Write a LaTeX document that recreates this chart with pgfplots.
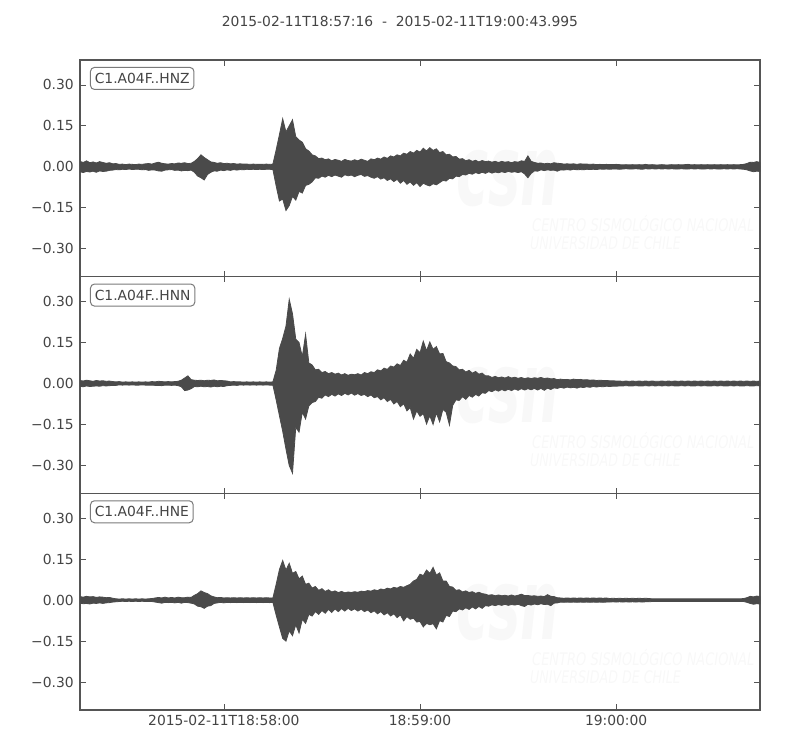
\documentclass[border=0pt]{standalone}
\usepackage{pgfplots}
\pgfplotsset{compat=1.18}
\usepackage{pgfplotstable}
\usepackage{fontspec}
\setmainfont{DejaVu Sans}
\definecolor{trace}{HTML}{4A4A4A}
\definecolor{frame}{HTML}{555555}
\definecolor{txt}{HTML}{444444}
\definecolor{boxc}{HTML}{7A7A7A}
\definecolor{wm}{HTML}{F8F8F8}
\newcommand\lab{\fontsize{10.4}{12.5}\selectfont}

\pgfplotstableread{
t hi lo
0 0.020 -0.018
1 0.016 -0.021
2 0.022 -0.017
3 0.015 -0.019
4 0.018 -0.016
5 0.014 -0.020
6 0.019 -0.015
7 0.016 -0.017
8 0.013 -0.016
9 0.015 -0.013
10 0.011 -0.012
11 0.012 -0.010
12 0.009 -0.011
13 0.010 -0.009
14 0.008 -0.010
15 0.010 -0.008
16 0.009 -0.010
17 0.008 -0.009
18 0.010 -0.009
19 0.009 -0.011
20 0.011 -0.010
21 0.012 -0.013
22 0.010 -0.011
23 0.014 -0.012
24 0.017 -0.015
25 0.013 -0.016
26 0.011 -0.012
27 0.010 -0.011
28 0.012 -0.010
29 0.011 -0.013
30 0.014 -0.012
31 0.013 -0.015
32 0.015 -0.013
33 0.012 -0.014
34 0.013 -0.012
35 0.020 -0.020
36 0.030 -0.034
37 0.044 -0.040
38 0.034 -0.048
39 0.026 -0.028
40 0.018 -0.020
41 0.016 -0.015
42 0.013 -0.016
43 0.015 -0.012
44 0.012 -0.014
45 0.013 -0.011
46 0.011 -0.013
47 0.012 -0.010
48 0.010 -0.012
49 0.011 -0.010
50 0.010 -0.011
51 0.010 -0.009
52 0.009 -0.010
53 0.010 -0.009
54 0.009 -0.010
55 0.009 -0.009
56 0.009 -0.010
57 0.010 -0.009
58 0.009 -0.009
59 0.010 -0.010
60 0.062 -0.070
61 0.118 -0.125
62 0.176 -0.118
63 0.128 -0.160
64 0.150 -0.142
65 0.172 -0.108
66 0.110 -0.122
67 0.098 -0.090
68 0.090 -0.096
69 0.066 -0.068
70 0.058 -0.064
71 0.044 -0.055
72 0.040 -0.040
73 0.030 -0.042
74 0.032 -0.034
75 0.026 -0.038
76 0.029 -0.031
77 0.022 -0.036
78 0.027 -0.030
79 0.024 -0.034
80 0.020 -0.038
81 0.027 -0.029
82 0.023 -0.033
83 0.021 -0.030
84 0.026 -0.036
85 0.022 -0.031
86 0.028 -0.028
87 0.024 -0.035
88 0.020 -0.032
89 0.029 -0.038
90 0.026 -0.042
91 0.032 -0.036
92 0.028 -0.045
93 0.036 -0.040
94 0.031 -0.050
95 0.040 -0.044
96 0.036 -0.054
97 0.044 -0.046
98 0.040 -0.060
99 0.050 -0.050
100 0.046 -0.064
101 0.056 -0.055
102 0.050 -0.068
103 0.060 -0.058
104 0.054 -0.072
105 0.068 -0.060
106 0.058 -0.066
107 0.070 -0.070
108 0.060 -0.062
109 0.066 -0.066
110 0.052 -0.058
111 0.056 -0.050
112 0.044 -0.052
113 0.046 -0.042
114 0.036 -0.044
115 0.038 -0.034
116 0.028 -0.036
117 0.030 -0.028
118 0.022 -0.030
119 0.026 -0.024
120 0.020 -0.027
121 0.024 -0.021
122 0.018 -0.025
123 0.023 -0.020
124 0.019 -0.024
125 0.021 -0.018
126 0.017 -0.023
127 0.020 -0.019
128 0.016 -0.022
129 0.020 -0.018
130 0.017 -0.021
131 0.019 -0.017
132 0.015 -0.020
133 0.019 -0.018
134 0.017 -0.021
135 0.022 -0.018
136 0.020 -0.026
137 0.040 -0.040
138 0.020 -0.024
139 0.016 -0.015
140 0.013 -0.016
141 0.014 -0.011
142 0.011 -0.014
143 0.013 -0.011
144 0.011 -0.013
145 0.015 -0.012
146 0.013 -0.016
147 0.012 -0.011
148 0.010 -0.012
149 0.011 -0.010
150 0.010 -0.012
151 0.011 -0.009
152 0.009 -0.011
153 0.011 -0.010
154 0.010 -0.011
155 0.010 -0.009
156 0.009 -0.010
157 0.010 -0.009
158 0.008 -0.010
159 0.009 -0.008
160 0.008 -0.009
161 0.009 -0.008
162 0.008 -0.009
163 0.008 -0.008
164 0.009 -0.008
165 0.008 -0.009
166 0.007 -0.008
167 0.008 -0.007
168 0.007 -0.008
169 0.008 -0.008
170 0.007 -0.007
171 0.008 -0.008
172 0.007 -0.009
173 0.009 -0.007
174 0.007 -0.008
175 0.008 -0.007
176 0.007 -0.008
177 0.007 -0.007
178 0.008 -0.008
179 0.007 -0.007
180 0.007 -0.008
181 0.008 -0.007
182 0.007 -0.008
183 0.008 -0.008
184 0.007 -0.007
185 0.008 -0.008
186 0.009 -0.008
187 0.007 -0.007
188 0.008 -0.008
189 0.007 -0.007
190 0.008 -0.008
191 0.007 -0.008
192 0.008 -0.007
193 0.007 -0.008
194 0.008 -0.007
195 0.007 -0.008
196 0.008 -0.008
197 0.007 -0.007
198 0.008 -0.008
199 0.007 -0.007
200 0.008 -0.008
201 0.007 -0.007
202 0.008 -0.008
203 0.009 -0.009
204 0.012 -0.011
205 0.017 -0.015
206 0.016 -0.018
207 0.019 -0.016
208 0.016 -0.017
}\hnz

\pgfplotstableread{
t hi lo
0 0.011 -0.010
1 0.009 -0.012
2 0.012 -0.009
3 0.010 -0.011
4 0.008 -0.010
5 0.011 -0.009
6 0.009 -0.010
7 0.010 -0.008
8 0.008 -0.009
9 0.009 -0.008
10 0.007 -0.007
11 0.006 -0.007
12 0.007 -0.005
13 0.005 -0.006
14 0.006 -0.005
15 0.005 -0.006
16 0.006 -0.005
17 0.005 -0.006
18 0.006 -0.006
19 0.005 -0.005
20 0.006 -0.006
21 0.005 -0.006
22 0.007 -0.006
23 0.006 -0.007
24 0.008 -0.007
25 0.007 -0.008
26 0.006 -0.006
27 0.007 -0.006
28 0.006 -0.007
29 0.007 -0.006
30 0.008 -0.008
31 0.012 -0.012
32 0.020 -0.026
33 0.028 -0.024
34 0.014 -0.019
35 0.012 -0.011
36 0.011 -0.012
37 0.012 -0.010
38 0.010 -0.012
39 0.012 -0.011
40 0.011 -0.013
41 0.013 -0.010
42 0.010 -0.012
43 0.011 -0.010
44 0.010 -0.011
45 0.009 -0.008
46 0.006 -0.007
47 0.007 -0.006
48 0.006 -0.007
49 0.006 -0.005
50 0.005 -0.006
51 0.006 -0.005
52 0.005 -0.006
53 0.006 -0.005
54 0.005 -0.006
55 0.006 -0.005
56 0.005 -0.006
57 0.006 -0.005
58 0.005 -0.006
59 0.006 -0.006
60 0.048 -0.060
61 0.128 -0.118
62 0.165 -0.175
63 0.210 -0.240
64 0.308 -0.300
65 0.255 -0.328
66 0.162 -0.160
67 0.150 -0.178
68 0.098 -0.105
69 0.180 -0.130
70 0.075 -0.082
71 0.068 -0.070
72 0.050 -0.066
73 0.052 -0.050
74 0.040 -0.054
75 0.044 -0.042
76 0.036 -0.048
77 0.040 -0.040
78 0.034 -0.046
79 0.038 -0.038
80 0.031 -0.044
81 0.036 -0.036
82 0.030 -0.042
83 0.034 -0.035
84 0.032 -0.043
85 0.036 -0.037
86 0.031 -0.044
87 0.040 -0.040
88 0.036 -0.048
89 0.043 -0.042
90 0.040 -0.052
91 0.050 -0.048
92 0.046 -0.060
93 0.056 -0.052
94 0.052 -0.066
95 0.064 -0.058
96 0.060 -0.075
97 0.072 -0.066
98 0.066 -0.085
99 0.085 -0.074
100 0.078 -0.100
101 0.108 -0.088
102 0.092 -0.130
103 0.125 -0.100
104 0.112 -0.120
105 0.155 -0.110
106 0.120 -0.148
107 0.152 -0.118
108 0.125 -0.150
109 0.135 -0.108
110 0.108 -0.140
111 0.110 -0.095
112 0.080 -0.105
113 0.075 -0.152
114 0.064 -0.080
115 0.062 -0.060
116 0.050 -0.062
117 0.052 -0.048
118 0.042 -0.058
119 0.048 -0.044
120 0.038 -0.050
121 0.044 -0.040
122 0.034 -0.046
123 0.038 -0.034
124 0.028 -0.036
125 0.028 -0.026
126 0.022 -0.030
127 0.026 -0.023
128 0.021 -0.028
129 0.024 -0.022
130 0.020 -0.027
131 0.025 -0.021
132 0.020 -0.026
133 0.023 -0.020
134 0.019 -0.025
135 0.022 -0.019
136 0.018 -0.024
137 0.021 -0.019
138 0.018 -0.023
139 0.021 -0.018
140 0.019 -0.024
141 0.022 -0.018
142 0.018 -0.025
143 0.020 -0.017
144 0.017 -0.022
145 0.018 -0.016
146 0.014 -0.018
147 0.016 -0.014
148 0.014 -0.017
149 0.015 -0.013
150 0.013 -0.016
151 0.016 -0.014
152 0.014 -0.017
153 0.015 -0.013
154 0.013 -0.015
155 0.014 -0.012
156 0.012 -0.014
157 0.013 -0.011
158 0.011 -0.013
159 0.012 -0.011
160 0.011 -0.012
161 0.011 -0.010
162 0.010 -0.011
163 0.010 -0.010
164 0.009 -0.010
165 0.009 -0.009
166 0.008 -0.009
167 0.009 -0.008
168 0.008 -0.009
169 0.009 -0.009
170 0.008 -0.008
171 0.009 -0.009
172 0.008 -0.009
173 0.009 -0.008
174 0.008 -0.009
175 0.009 -0.008
176 0.008 -0.009
177 0.008 -0.008
178 0.009 -0.009
179 0.008 -0.008
180 0.009 -0.009
181 0.008 -0.008
182 0.009 -0.009
183 0.008 -0.009
184 0.009 -0.008
185 0.008 -0.009
186 0.009 -0.008
187 0.008 -0.009
188 0.009 -0.009
189 0.008 -0.008
190 0.009 -0.009
191 0.008 -0.008
192 0.009 -0.009
193 0.008 -0.009
194 0.009 -0.008
195 0.008 -0.009
196 0.009 -0.008
197 0.008 -0.009
198 0.009 -0.009
199 0.008 -0.008
200 0.009 -0.009
201 0.008 -0.008
202 0.009 -0.009
203 0.008 -0.009
204 0.009 -0.008
205 0.008 -0.009
206 0.009 -0.009
207 0.008 -0.008
208 0.009 -0.009
}\hnn

\pgfplotstableread{
t hi lo
0 0.013 -0.011
1 0.011 -0.013
2 0.014 -0.012
3 0.012 -0.014
4 0.013 -0.011
5 0.010 -0.012
6 0.012 -0.010
7 0.011 -0.012
8 0.009 -0.010
9 0.010 -0.009
10 0.007 -0.007
11 0.005 -0.006
12 0.004 -0.005
13 0.005 -0.004
14 0.004 -0.005
15 0.005 -0.004
16 0.004 -0.005
17 0.005 -0.004
18 0.004 -0.005
19 0.005 -0.004
20 0.004 -0.005
21 0.005 -0.005
22 0.006 -0.005
23 0.008 -0.007
24 0.010 -0.009
25 0.008 -0.011
26 0.011 -0.008
27 0.008 -0.009
28 0.010 -0.008
29 0.008 -0.010
30 0.011 -0.008
31 0.009 -0.011
32 0.009 -0.008
33 0.011 -0.009
34 0.010 -0.011
35 0.018 -0.014
36 0.024 -0.022
37 0.034 -0.024
38 0.028 -0.030
39 0.024 -0.022
40 0.016 -0.020
41 0.012 -0.012
42 0.009 -0.010
43 0.010 -0.008
44 0.008 -0.010
45 0.009 -0.008
46 0.008 -0.009
47 0.009 -0.008
48 0.008 -0.009
49 0.009 -0.008
50 0.008 -0.009
51 0.009 -0.008
52 0.008 -0.009
53 0.009 -0.008
54 0.008 -0.009
55 0.009 -0.008
56 0.008 -0.009
57 0.009 -0.008
58 0.008 -0.009
59 0.008 -0.008
60 0.058 -0.055
61 0.112 -0.098
62 0.145 -0.140
63 0.110 -0.150
64 0.135 -0.112
65 0.098 -0.130
66 0.105 -0.090
67 0.078 -0.120
68 0.088 -0.070
69 0.058 -0.085
70 0.062 -0.052
71 0.044 -0.058
72 0.050 -0.042
73 0.036 -0.052
74 0.042 -0.038
75 0.032 -0.048
76 0.038 -0.034
77 0.030 -0.045
78 0.034 -0.032
79 0.028 -0.042
80 0.032 -0.031
81 0.027 -0.040
82 0.030 -0.030
83 0.028 -0.038
84 0.031 -0.032
85 0.029 -0.040
86 0.033 -0.033
87 0.031 -0.042
88 0.035 -0.036
89 0.033 -0.046
90 0.038 -0.039
91 0.035 -0.050
92 0.041 -0.042
93 0.038 -0.054
94 0.044 -0.046
95 0.041 -0.058
96 0.047 -0.050
97 0.044 -0.064
98 0.050 -0.054
99 0.047 -0.076
100 0.053 -0.060
101 0.058 -0.070
102 0.070 -0.066
103 0.076 -0.080
104 0.095 -0.078
105 0.090 -0.098
106 0.110 -0.085
107 0.098 -0.090
108 0.120 -0.086
109 0.092 -0.105
110 0.100 -0.075
111 0.070 -0.080
112 0.070 -0.056
113 0.050 -0.060
114 0.048 -0.040
115 0.036 -0.042
116 0.038 -0.032
117 0.030 -0.036
118 0.034 -0.028
119 0.028 -0.034
120 0.031 -0.025
121 0.025 -0.032
122 0.029 -0.023
123 0.024 -0.030
124 0.022 -0.020
125 0.018 -0.022
126 0.020 -0.017
127 0.016 -0.020
128 0.019 -0.016
129 0.016 -0.019
130 0.018 -0.015
131 0.015 -0.019
132 0.019 -0.016
133 0.015 -0.018
134 0.018 -0.015
135 0.022 -0.020
136 0.017 -0.023
137 0.017 -0.015
138 0.015 -0.018
139 0.016 -0.014
140 0.014 -0.017
141 0.015 -0.013
142 0.013 -0.016
143 0.020 -0.015
144 0.014 -0.020
145 0.013 -0.011
146 0.009 -0.010
147 0.008 -0.007
148 0.007 -0.008
149 0.008 -0.007
150 0.007 -0.008
151 0.008 -0.007
152 0.007 -0.008
153 0.008 -0.007
154 0.007 -0.008
155 0.008 -0.007
156 0.007 -0.008
157 0.008 -0.007
158 0.007 -0.008
159 0.008 -0.007
160 0.007 -0.008
161 0.008 -0.007
162 0.006 -0.007
163 0.007 -0.006
164 0.006 -0.007
165 0.007 -0.006
166 0.006 -0.007
167 0.007 -0.006
168 0.006 -0.007
169 0.007 -0.006
170 0.006 -0.007
171 0.007 -0.006
172 0.006 -0.007
173 0.007 -0.006
174 0.006 -0.006
175 0.005 -0.005
176 0.005 -0.005
177 0.005 -0.005
178 0.005 -0.005
179 0.005 -0.005
180 0.005 -0.005
181 0.005 -0.005
182 0.005 -0.005
183 0.005 -0.005
184 0.005 -0.005
185 0.005 -0.005
186 0.005 -0.005
187 0.005 -0.005
188 0.005 -0.005
189 0.005 -0.005
190 0.005 -0.005
191 0.005 -0.005
192 0.005 -0.005
193 0.005 -0.005
194 0.005 -0.005
195 0.005 -0.005
196 0.005 -0.005
197 0.005 -0.005
198 0.005 -0.005
199 0.005 -0.005
200 0.005 -0.005
201 0.005 -0.005
202 0.005 -0.005
203 0.006 -0.005
204 0.009 -0.008
205 0.014 -0.012
206 0.012 -0.015
207 0.015 -0.013
208 0.013 -0.014
}\hne

\pgfplotsset{
  panel/.style={
    scale only axis, width=510pt, height=162.5pt,
    xmin=0, xmax=207.995, ymin=-0.402, ymax=0.391,
    axis line style={draw=frame, line width=1.04pt},
    every tick/.style={draw=frame, line width=0.52pt},
    major tick length=4.2pt,
    tick align=inside,
    xtick={44,104,164},
    ytick={-0.3,-0.15,0,0.15,0.3},
    yticklabels={−0.30,−0.15,0.00,0.15,0.30},
    xticklabels={},
    ticklabel style={font=\lab, text=txt},
    yticklabel style={xshift=-1.2pt},
    xticklabel style={yshift=-0.5pt},
    clip=true,
  },
  band/.style={draw=trace, fill=trace, line width=0.6pt, line join=miter},
}
\tikzset{
  lbl/.style={draw=boxc, line width=0.75pt, rounded corners=3pt, fill=white,
    anchor=north west, inner xsep=3.2pt, inner ysep=4.4pt, text depth=0pt,
    font=\lab, text=txt},
  wmk/.style={anchor=base west, inner sep=0pt, text=wm, text depth=0pt},
}

\begin{document}
\begin{tikzpicture}
% title
\node[font=\lab, text=txt] at (300pt,546.5pt) {2015-02-11T18:57:16\ \ -\ \ 2015-02-11T19:00:43.995};
% faint watermark
\foreach \dy in {0,162.5,325}{
  \node[wmk, xscale=0.55, font=\fontsize{74}{76}\selectfont\bfseries\itshape] at (342pt,408pt-\dy pt) {csn};
  \node[wmk, xscale=0.75, font=\fontsize{13}{14}\selectfont\itshape] at (399pt,388.5pt-\dy pt) {CENTRO SISMOLÓGICO NACIONAL};
  \node[wmk, xscale=0.73, font=\fontsize{13}{14}\selectfont\itshape] at (397.5pt,375pt-\dy pt) {UNIVERSIDAD DE CHILE};
}

\begin{axis}[panel, at={(60pt,355pt)}, anchor=south west]
\addplot[band] table[x=t,y=hi]{\hnz} \closedcycle;
\addplot[band] table[x=t,y=lo]{\hnz} \closedcycle;
\node[lbl] at (rel axis cs:0.0147,0.968) {C1.A04F..HNZ};
\end{axis}

\begin{axis}[panel, at={(60pt,192.5pt)}, anchor=south west]
\addplot[band] table[x=t,y=hi]{\hnn} \closedcycle;
\addplot[band] table[x=t,y=lo]{\hnn} \closedcycle;
\node[lbl] at (rel axis cs:0.0147,0.968) {C1.A04F..HNN};
\end{axis}

\begin{axis}[panel, at={(60pt,30pt)}, anchor=south west,
  xticklabels={2015-02-11T18:58:00,18:59:00,19:00:00}]
\addplot[band] table[x=t,y=hi]{\hne} \closedcycle;
\addplot[band] table[x=t,y=lo]{\hne} \closedcycle;
\node[lbl] at (rel axis cs:0.0147,0.968) {C1.A04F..HNE};
\end{axis}
\pgfresetboundingbox
\path[use as bounding box] (0,0) rectangle (600pt,562.5pt);
\end{tikzpicture}
\end{document}
